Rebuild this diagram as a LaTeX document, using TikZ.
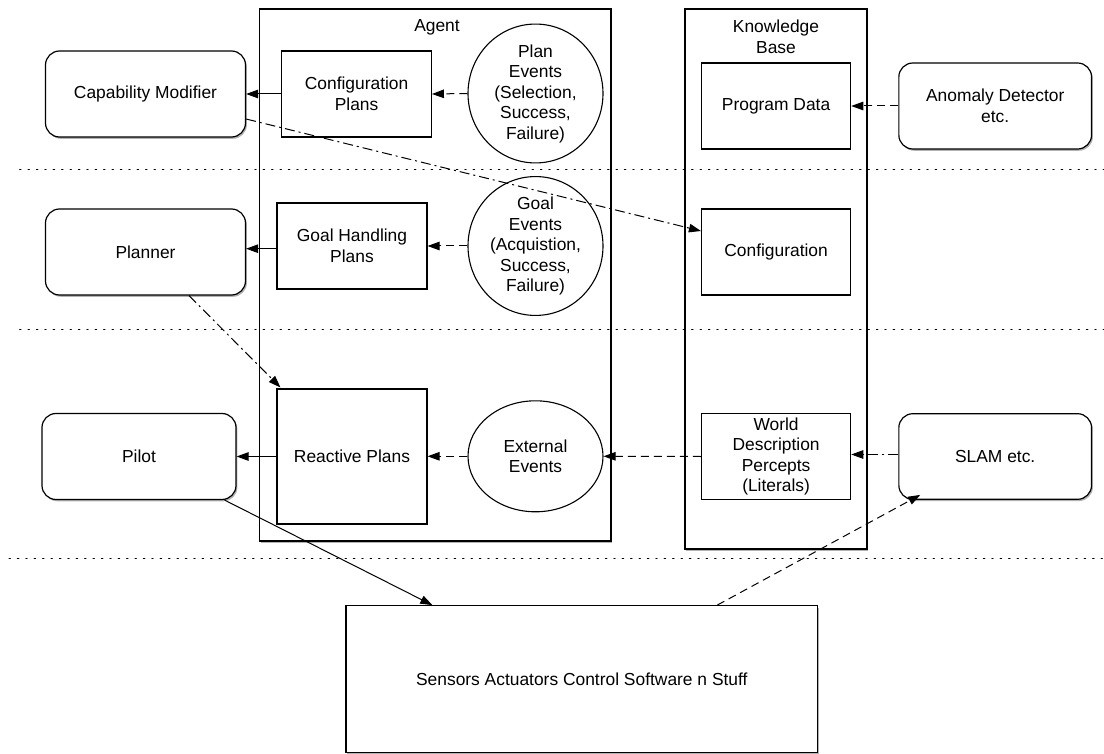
\documentclass[tikz,border=0pt]{standalone}
\usepackage{fontspec}
\setmainfont{Liberation Sans}
\usetikzlibrary{shapes.geometric, arrows.meta, shadows}
\begin{document}
\begin{tikzpicture}[x=1pt,y=-1pt,
  font=\fontsize{17.4}{20.5}\selectfont,
  every node/.style={inner sep=0pt, align=center},
  shad/.style={drop shadow={shadow xshift=1.4pt,shadow yshift=-1.8pt,opacity=0.3,fill=black}},
  outerbox/.style={draw, line width=1.5pt, fill=white, shad},
  innerbox/.style={draw, line width=1.1pt, fill=white},
  roundbox/.style={draw, line width=1.2pt, fill=white, rounded corners=14pt, shad, minimum height=86pt},
  evell/.style={draw, ellipse, line width=1.1pt, fill=white, minimum width=135pt, minimum height=111pt},
  tip/.style={-{Triangle[length=12pt,width=8.5pt]}},
  solidarrow/.style={tip, line width=1pt},
  dasharrow/.style={tip, line width=1pt, dash pattern=on 8pt off 5pt},
  dotdasharrow/.style={tip, line width=1pt, dash pattern=on 10pt off 4pt on 2pt off 4pt},
  sepline/.style={line width=1pt, dash pattern=on 1.4pt off 7pt, line cap=round}
]
\useasboundingbox (0,0) rectangle (1104,754);
\fill[white] (0,0) rectangle (1104,754);

% outer containers
\node[outerbox, minimum width=351.4pt, minimum height=532pt] (agent) at (435.3,275) {};
\node (agentlbl) at (437,27) {Agent};
\node[outerbox, minimum width=182pt, minimum height=539.7pt] (kb) at (776,278.9) {};
\node (kblbl) at (776,37) {Knowledge\\Base};

% left rounded boxes
\node[roundbox, minimum width=200pt] (capmod) at (145.5,94) {Capability Modifier};
\node[roundbox, minimum width=200pt] (planner) at (145.5,252) {Planner};
\node[roundbox, minimum width=194pt] (pilot) at (139,456.5) {Pilot};

% agent contents
\node[innerbox, minimum width=149.6pt, minimum height=86pt] (cfgplans) at (356.6,94) {Configuration\\Plans};
\node[innerbox, minimum width=150pt, minimum height=86pt] (goalplans) at (352,246) {Goal Handling\\Plans};
\node[innerbox, minimum width=150pt, minimum height=135pt] (reactive) at (352,456.5) {Reactive Plans};
\node[evell] (planev) at (535.5,93.5) {Plan\\Events\\(Selection,\\Success,\\Failure)};
\node[evell, minimum height=110pt] (goalev) at (535.5,246) {Goal\\Events\\(Acquistion,\\Success,\\Failure)};
\node[evell] (extev) at (535.5,456.3) {External\\Events};

% knowledge base contents
\node[innerbox, minimum width=149.2pt, minimum height=86pt] (progdata) at (776.1,106) {Program Data};
\node[innerbox, minimum width=149.2pt, minimum height=86pt] (config) at (776.1,252) {Configuration};
\node[innerbox, minimum width=149.2pt, minimum height=85.6pt] (world) at (776.1,456.5) {World\\Description\\Percepts\\(Literals)};

% right rounded boxes
\node[roundbox, minimum width=192.7pt] (anomaly) at (995.2,106) {Anomaly Detector\\etc.};
\node[roundbox, minimum width=192.7pt, minimum height=85.6pt] (slam) at (995.2,456.5) {SLAM etc.};

% bottom box
\node[outerbox, line width=1.2pt, minimum width=471.7pt, minimum height=147pt] (sensors) at (581.8,679.2) {Sensors Actuators Control Software n Stuff};

% separator lines
\coordinate (s1a) at (19.6,169.5); \coordinate (s1b) at (1104,169.5);
\coordinate (s2a) at (19.6,330); \coordinate (s2b) at (1104,330);
\coordinate (s3a) at (9,558); \coordinate (s3b) at (1104,558);
\draw[sepline] (s1a) -- (s1b);
\draw[sepline] (s2a) -- (s2b);
\draw[sepline] (s3a) -- (s3b);

% connectors
\draw[solidarrow] (cfgplans.west) -- (capmod.east);
\draw[dasharrow] (planev.west) -- (cfgplans.east);
\draw[solidarrow] ([yshift=-2.7pt]goalplans.west) -- ([yshift=-2.7pt]goalplans.west -| planner.east);
\draw[dasharrow] (goalev.west) -- (goalplans.east);
\draw[solidarrow] (reactive.west) -- (pilot.east);
\draw[dasharrow] (extev.west) -- (extev.west -| reactive.east);
\draw[dasharrow] (world.west) -- (extev.east);
\draw[dotdasharrow] ([yshift=2pt]slam.west) -- ([yshift=2pt]slam.west -| world.east);
\draw[dasharrow] (anomaly.west) -- (progdata.east);
\draw[dotdasharrow] ([yshift=-25pt]capmod.east) -- ([yshift=21pt]config.west);
\draw[dotdasharrow] ([xshift=43.5pt]planner.south) -- ([xshift=4pt,yshift=1pt]reactive.north west);
\draw[solidarrow] ([xshift=-12pt]pilot.south east) -- ([xshift=87pt]sensors.north west);
\draw[dasharrow] ([xshift=-101pt]sensors.north east) -- ([xshift=22pt,yshift=5pt]slam.south west);
\end{tikzpicture}
\end{document}
